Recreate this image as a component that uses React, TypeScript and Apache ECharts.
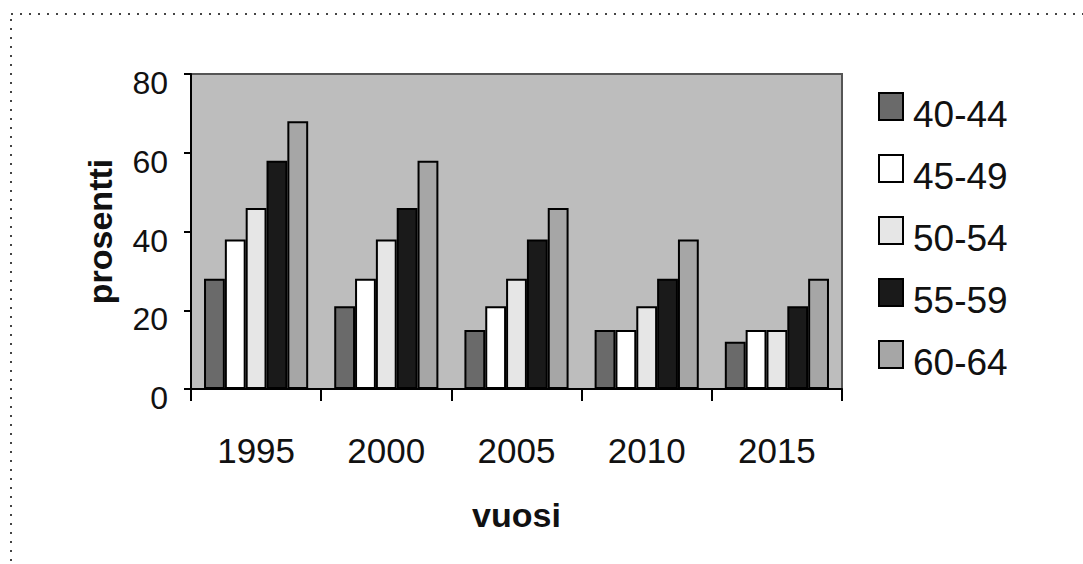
import React, { useEffect, useRef } from "react";
import * as echarts from "echarts";

const years = ["1995", "2000", "2005", "2010", "2015"];
const ageGroups = ["40-44", "45-49", "50-54", "55-59", "60-64"];
const g4044 = [28, 21, 15, 15, 12];
const g4549 = [38, 28, 21, 15, 15];
const g5054 = [46, 38, 28, 21, 15];
const g5559 = [58, 46, 38, 28, 21];
const g6064 = [68, 58, 46, 38, 28];
const seriesValues = [g4044, g4549, g5054, g5559, g6064];
const seriesColors = ["#6a6a6a", "#ffffff", "#e6e6e6", "#1a1a1a", "#a6a6a6"];
const yTicks = { min: 0, max: 80, interval: 20 };

const FONT = "'Liberation Sans', Arial, Helvetica, sans-serif";

export default function App() {
  const ref = useRef<HTMLDivElement>(null);
  useEffect(() => {
    if (!ref.current) return;
    const chart = echarts.init(ref.current, null, { renderer: "svg" });
    chart.setOption({
      animation: false,
      backgroundColor: "#ffffff",
      textStyle: { fontFamily: FONT },
      grid: {
        left: 191,
        top: 74,
        right: 241,
        bottom: 175,
        show: true,
        backgroundColor: "#bdbdbd",
        borderColor: "#555555",
        borderWidth: 2,
      },
      legend: {
        orient: "vertical",
        left: 878,
        top: 92,
        padding: 0,
        itemWidth: 24,
        itemHeight: 27,
        itemGap: 21,
        icon: "rect",
        data: ageGroups,
        formatter: "{t|{name}}",
        textStyle: {
          fontFamily: FONT,
          fontSize: 37,
          color: "#111",
          rich: {
            t: { fontFamily: FONT, fontSize: 37, color: "#111", padding: [16, 0, 0, 5] },
          },
        },
      },
      xAxis: {
        type: "category",
        data: years,
        name: "vuosi",
        nameLocation: "middle",
        nameGap: 109,
        nameTextStyle: { fontFamily: FONT, fontSize: 34, fontWeight: "bold", color: "#111" },
        axisLine: { lineStyle: { color: "#000", width: 2 } },
        axisTick: { show: true, length: 12, lineStyle: { color: "#000", width: 2 } },
        axisLabel: { fontFamily: FONT, fontSize: 35, color: "#111", margin: 44 },
      },
      yAxis: {
        type: "value",
        min: yTicks.min,
        max: yTicks.max,
        interval: yTicks.interval,
        name: "prosentti",
        nameLocation: "middle",
        nameGap: 74,
        nameRotate: 90,
        nameTextStyle: { fontFamily: FONT, fontSize: 34, fontWeight: "bold", color: "#111" },
        axisLine: { show: true, lineStyle: { color: "#000", width: 2 } },
        axisTick: { show: true, length: 7, lineStyle: { color: "#000", width: 2 } },
        splitLine: { show: false },
        axisLabel: {
          fontFamily: FONT,
          fontSize: 32,
          color: "#111",
          margin: 23,
          formatter: "{v|{value}}",
          rich: { v: { fontFamily: FONT, fontSize: 32, color: "#111", padding: [18, 0, 0, 0] } },
        },
      },
      graphic: [
        {
          type: "rect",
          shape: { x: 11, y: 14, width: 1100, height: 600 },
          style: { fill: "none", stroke: "#444", lineWidth: 2, lineDash: [2, 7] },
          silent: true,
        },
      ],
      series: ageGroups.map((name, i) => ({
        name,
        type: "bar",
        data: seriesValues[i],
        barGap: "0%",
        barCategoryGap: "20%",
        itemStyle: { color: seriesColors[i], borderColor: "#000", borderWidth: 2 },
      })),
    });
    return () => chart.dispose();
  }, []);
  return (
    <div
      ref={ref}
      style={{ position: "fixed", left: 0, top: 0, width: 1083, height: 564 }}
    />
  );
}
